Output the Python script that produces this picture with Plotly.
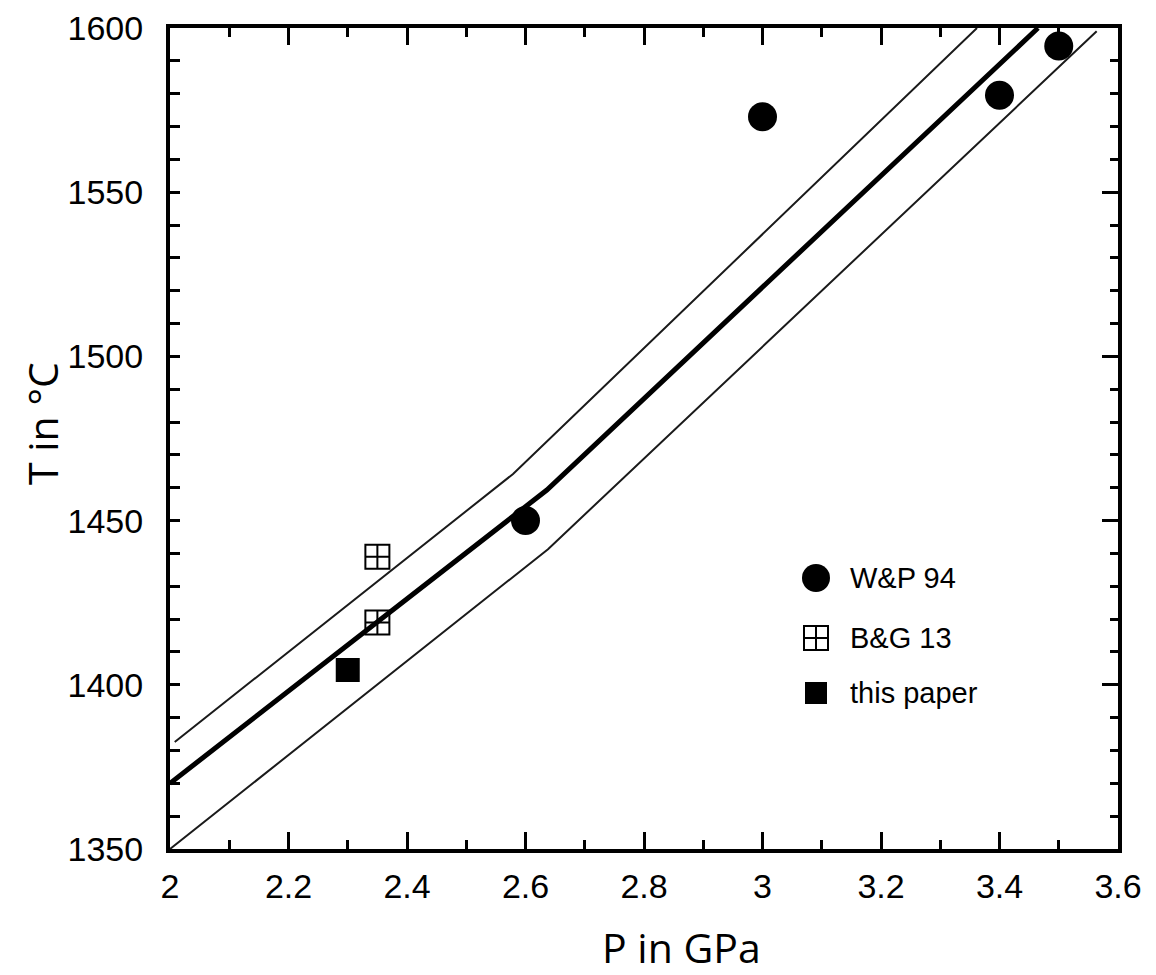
import plotly.graph_objects as go

# ---- data ----
wp_p = [2.6, 3.0, 3.4, 3.5]
wp_t = [1450, 1573, 1579.5, 1594.5]
bg_p = [2.35, 2.35]
bg_t = [1439, 1419]
tp_p = [2.3]
tp_t = [1404.5]

fit_p = [2.0, 2.636, 3.465]
fit_t = [1370, 1459.3, 1600]
up_p = [2.008, 2.579, 3.362]
up_t = [1382.6, 1464.2, 1600]
lo_p = [2.0, 2.638, 3.564]
lo_t = [1350, 1441.3, 1599]

legend_names = ["W&P 94", "B&G 13", "this paper"]

# page has an 8px body margin; compensate so the plot area lands where intended
OFF = 8
W, H = 1140, 967
L = 170 - OFF
T = 28 - OFF
R = W - (1118 - OFF)
B = H - (849 - OFF)
pw, ph = W - L - R, H - T - B

def px(xp):
    return (xp - OFF - L) / pw

def py(yp):
    return (H - B - (yp - OFF)) / ph

fig = go.Figure()
fig.add_trace(go.Scatter(x=up_p, y=up_t, mode="lines", line=dict(color="#1a1a1a", width=2), showlegend=False))
fig.add_trace(go.Scatter(x=lo_p, y=lo_t, mode="lines", line=dict(color="#1a1a1a", width=2), showlegend=False))
fig.add_trace(go.Scatter(x=fit_p, y=fit_t, mode="lines", line=dict(color="black", width=5), showlegend=False))
fig.add_trace(go.Scatter(x=wp_p, y=wp_t, mode="markers", name=legend_names[0],
                         marker=dict(symbol="circle", size=29, color="black"), showlegend=False))
fig.add_trace(go.Scatter(x=bg_p, y=bg_t, mode="markers", name=legend_names[1],
                         marker=dict(symbol="square-cross-open", size=24, color="black",
                                     line=dict(width=2, color="black")), showlegend=False))
fig.add_trace(go.Scatter(x=tp_p, y=tp_t, mode="markers", name=legend_names[2],
                         marker=dict(symbol="square", size=24, color="black"), showlegend=False))
# dummy trace to realise the mirrored axes
fig.add_trace(go.Scatter(x=[None], y=[None], xaxis="x2", yaxis="y2", showlegend=False, hoverinfo="skip"))

tickfont = dict(family="Liberation Sans, Arial, sans-serif", size=34, color="black")

xcommon = dict(range=[2, 3.6], tick0=2, dtick=0.2, ticks="inside", ticklen=17, tickwidth=3,
               tickcolor="black", showline=True, linewidth=4, linecolor="black",
               showgrid=False, zeroline=False, automargin=False,
               minor=dict(dtick=0.1, ticks="inside", ticklen=9, tickwidth=3, tickcolor="black", showgrid=False))
ycommon = dict(range=[1350, 1600], tick0=1350, dtick=50, ticks="inside", tickwidth=3,
               tickcolor="black", showline=True, linewidth=4, linecolor="black",
               showgrid=False, zeroline=False, automargin=False)

fig.update_layout(
    width=W, height=H,
    margin=dict(l=L, r=R, t=T, b=B, autoexpand=False),
    paper_bgcolor="white", plot_bgcolor="white",
    showlegend=False,
    xaxis=dict(**xcommon, side="bottom", tickfont=tickfont, ticklabelstandoff=4),
    xaxis2=dict(**xcommon, side="top", overlaying="x", anchor="y", showticklabels=False),
    yaxis=dict(**ycommon, side="left", ticklen=10, tickfont=tickfont, ticklabelstandoff=16,
               minor=dict(dtick=10, ticks="inside", ticklen=10, tickwidth=3, tickcolor="black", showgrid=False)),
    yaxis2=dict(**ycommon, side="right", overlaying="y", anchor="x", ticklen=16, showticklabels=False,
                minor=dict(dtick=10, ticks="inside", ticklen=8, tickwidth=3, tickcolor="black", showgrid=False)),
)

# axis titles
fig.add_annotation(text="P in GPa", xref="paper", yref="paper", x=px(681), y=py(947),
                   xanchor="center", yanchor="middle", showarrow=False,
                   font=dict(family="Open Sans, Noto Sans, sans-serif", size=41, color="black"))
fig.add_annotation(text="T in °C", xref="paper", yref="paper", x=px(42), y=py(424),
                   xanchor="center", yanchor="middle", showarrow=False, textangle=-90,
                   font=dict(family="Open Sans, Noto Sans, sans-serif", size=41, color="black"))

# legend (manual)
legfont = dict(family="Liberation Sans, Arial, sans-serif", size=29, color="black")
rows = [578, 638, 693]
cx = 816
r = 14
fig.add_shape(type="circle", xref="paper", yref="paper", x0=px(cx - r), x1=px(cx + r),
              y0=py(rows[0] + r), y1=py(rows[0] - r), fillcolor="black", line=dict(color="black", width=0))
s = 12
fig.add_shape(type="rect", xref="paper", yref="paper", x0=px(cx - s), x1=px(cx + s),
              y0=py(rows[1] + s), y1=py(rows[1] - s), line=dict(color="black", width=2))
fig.add_shape(type="line", xref="paper", yref="paper", x0=px(cx), x1=px(cx),
              y0=py(rows[1] + s), y1=py(rows[1] - s), line=dict(color="black", width=2))
fig.add_shape(type="line", xref="paper", yref="paper", x0=px(cx - s), x1=px(cx + s),
              y0=py(rows[1]), y1=py(rows[1]), line=dict(color="black", width=2))
s2 = 11
fig.add_shape(type="rect", xref="paper", yref="paper", x0=px(cx - s2), x1=px(cx + s2),
              y0=py(rows[2] + s2), y1=py(rows[2] - s2), fillcolor="black", line=dict(color="black", width=0))
for name, yy in zip(legend_names, rows):
    fig.add_annotation(text=name, xref="paper", yref="paper", x=px(848), y=py(yy),
                       xanchor="left", yanchor="middle", showarrow=False, font=legfont)

fig.write_html("out.html")
